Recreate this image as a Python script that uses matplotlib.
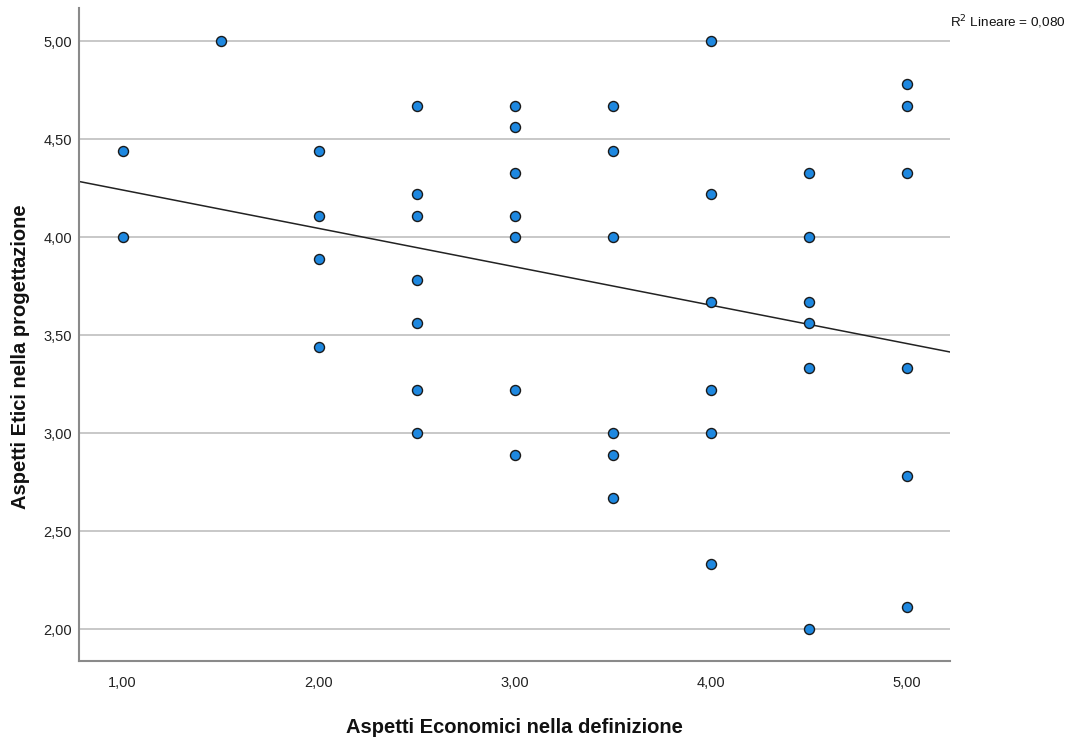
import numpy as np
import matplotlib
matplotlib.use("Agg")
import matplotlib.pyplot as plt

plt.rcParams["font.family"] = ["Liberation Sans", "DejaVu Sans"]

# scatter points (x = Economici, y = Etici)
econ = [1.0, 1.0,
        1.5,
        2.0, 2.0, 2.0, 2.0,
        2.5, 2.5, 2.5, 2.5, 2.5, 2.5, 2.5,
        3.0, 3.0, 3.0, 3.0, 3.0, 3.0, 3.0,
        3.5, 3.5, 3.5, 3.5, 3.5, 3.5,
        4.0, 4.0, 4.0, 4.0, 4.0, 4.0,
        4.5, 4.5, 4.5, 4.5, 4.5, 4.5,
        5.0, 5.0, 5.0, 5.0, 5.0, 5.0]
etici = [4.44, 4.00,
         5.00,
         4.44, 4.11, 3.89, 3.44,
         4.67, 4.22, 4.11, 3.78, 3.56, 3.22, 3.00,
         4.67, 4.56, 4.33, 4.11, 4.00, 3.22, 2.89,
         4.67, 4.44, 4.00, 3.00, 2.89, 2.67,
         5.00, 4.22, 3.67, 3.22, 3.00, 2.33,
         4.33, 4.00, 3.67, 3.56, 3.33, 2.00,
         4.78, 4.67, 4.33, 3.33, 2.78, 2.11]

# fitted line as drawn in the chart
fit_intercept = 4.437
fit_slope = -0.196
r2_text = "R$^2$ Lineare = 0,080"

x_ticks = [1.0, 2.0, 3.0, 4.0, 5.0]
y_ticks = [2.0, 2.5, 3.0, 3.5, 4.0, 4.5, 5.0]

fig = plt.figure(figsize=(10.69, 7.40), dpi=100)
ax = fig.add_axes([0.0739, 0.1068, 0.8148, 0.8824])

xlim = (0.778, 5.219)
ylim = (1.837, 5.17)

for yt in y_ticks:
    ax.axhline(yt, color="#c8c8c8", lw=1.4, zorder=1)

xs = np.array(xlim)
ax.plot(xs, fit_intercept + fit_slope * xs, color="#222222", lw=1.1, zorder=2)

ax.scatter(econ, etici, s=52, color="#1e88e0", edgecolors="#1a1a1a",
           linewidths=1.0, zorder=3)

ax.set_xlim(*xlim)
ax.set_ylim(*ylim)
ax.set_xticks(x_ticks)
ax.set_yticks(y_ticks)
ax.set_xticklabels([f"{v:.2f}".replace(".", ",") for v in x_ticks])
ax.set_yticklabels([f"{v:.2f}".replace(".", ",") for v in y_ticks])
ax.tick_params(length=0, labelsize=10.5, colors="#222222")
ax.tick_params(axis="y", pad=5)
ax.tick_params(axis="x", pad=11)

for side in ["top", "right"]:
    ax.spines[side].set_visible(False)
for side in ["left", "bottom"]:
    ax.spines[side].set_color("#8a8a8a")
    ax.spines[side].set_linewidth(1.5)

fig.text(0.4813, 1 - 733 / 740, "Aspetti Economici nella definizione",
         ha="center", va="baseline", fontsize=14.5, fontweight="bold",
         color="#111111")
fig.text(0.019, 1 - 357 / 740, "Aspetti Etici nella progettazione",
         ha="center", va="center", rotation=90, fontsize=14.5,
         fontweight="bold", color="#111111")
fig.text(0.8887, 1 - 22 / 740, r2_text, ha="left", va="center",
         fontsize=9.7, color="#111111")

fig.savefig("out.png", dpi=100)
